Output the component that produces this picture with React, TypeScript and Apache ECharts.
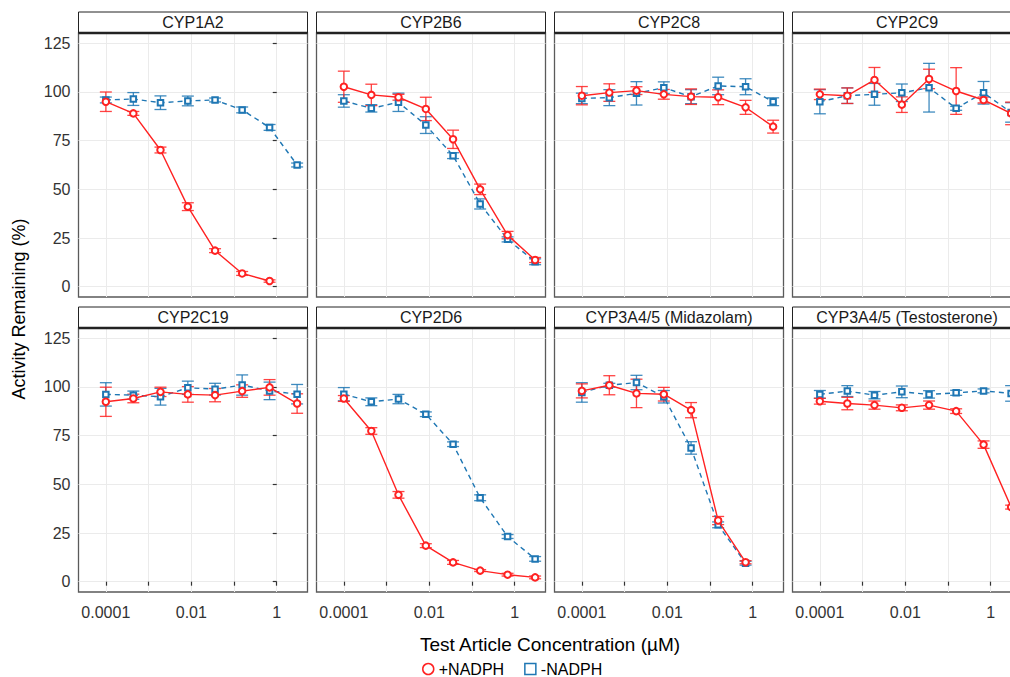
import React, { useEffect, useRef } from "react";
import * as echarts from "echarts";

const concentrations = [0.0001, 0.00044, 0.0019, 0.0083, 0.036, 0.155, 0.68, 3.0];
const panels = [
  "CYP1A2",
  "CYP2B6",
  "CYP2C8",
  "CYP2C9",
  "CYP2C19",
  "CYP2D6",
  "CYP3A4/5 (Midazolam)",
  "CYP3A4/5 (Testosterone)",
];

const plusMean: (number | null)[][] = [
  [95.0, 89.0, 70.2, 41.1, 18.5, 6.8, 2.9, null],
  [102.7, 98.5, 97.3, 91.3, 75.7, 50.0, 26.5, 13.7],
  [98.1, 99.7, 100.7, 98.8, 97.6, 97.3, 92.1, 82.2],
  [98.8, 98.1, 106.2, 93.5, 106.7, 100.5, 95.9, 89.0],
  [92.4, 94.1, 97.5, 96.2, 95.8, 97.9, 99.8, 91.5],
  [94.1, 77.4, 44.6, 18.5, 9.9, 5.7, 3.6, 2.2],
  [98.0, 100.9, 96.7, 96.3, 88.1, 31.4, 10.0, null],
  [92.7, 91.5, 90.7, 89.3, 90.7, 87.6, 70.4, 38.3],
];
const plusErr: (number | null)[][] = [
  [5, 1, 1.5, 2, 1, 1, 0.6, null],
  [8, 5.5, 1.5, 6, 4.7, 2.7, 1.9, 1.3],
  [4.7, 4.5, 2, 2.5, 4, 3.8, 3.6, 3.3],
  [2.7, 4, 6.4, 4, 5, 12, 1.5, 5.8],
  [7.5, 2.2, 2.4, 4, 3.4, 3.2, 4, 5],
  [1.5, 1.7, 1.7, 1, 1, 0.5, 0.7, 0.7],
  [3.6, 4.9, 7.3, 3.5, 3.9, 2.1, 0.8, null],
  [1.5, 3.2, 2.1, 1.5, 2.1, 1.2, 1.9, 1],
];
const minusMean: (number | null)[][] = [
  [95.9, 96.4, 94.5, 95.4, 95.9, 90.8, 81.8, 62.5],
  [95.4, 91.6, 94.7, 83.0, 67.3, 42.5, 24.3, 12.8],
  [96.7, 97.1, 99.3, 102.2, 97.6, 103.1, 102.7, 95.0],
  [95.0, 98.1, 98.8, 99.6, 102.2, 91.6, 99.6, 89.5],
  [96.2, 95.8, 95.0, 99.6, 98.9, 101.0, 98.0, 96.3],
  [96.3, 92.4, 93.8, 86.0, 70.6, 43.1, 23.2, 11.7],
  [97.2, 100.9, 102.3, 95.0, 68.7, 29.2, 9.5, null],
  [96.2, 97.9, 95.8, 97.5, 96.2, 97.0, 98.0, 96.7],
];
const minusErr: (number | null)[][] = [
  [1.5, 3.3, 3.5, 2.5, 1, 1.5, 1.5, 1],
  [3.2, 1.9, 4.7, 4.3, 1.5, 2.6, 1.3, 1.5],
  [2.7, 4.1, 6, 3, 3.6, 4.5, 4.1, 2],
  [6.2, 4, 5.6, 4.5, 12.5, 1, 5.8, 5],
  [6, 2.1, 4.3, 3.4, 3, 5.2, 4.5, 5],
  [3.4, 2, 2.4, 1.2, 1.2, 1.5, 1, 1.2],
  [5, 1, 3.7, 3.2, 3.2, 1.5, 1, null],
  [2, 2.8, 1.9, 3, 1.9, 1.3, 1, 4],
];

const xTickValues = [0.0001, 0.001, 0.01, 0.1, 1];
const xLabelValues = [0.0001, 0.01, 1];
const xLabelTexts = ["0.0001", "0.01", "1"];
const yTickValues = [0, 25, 50, 75, 100, 125];

const RED = "#FF2222";
const BLUE = "#1F77B4";
const FONT = "'Liberation Sans', Arial, sans-serif";

const GRID_LEFT = 78.5;
const GRID_STEP_X = 238;
const GRID_W = 229;
const GRID_TOP = 33;
const GRID_STEP_Y = 295;
const GRID_H = 264;
const STRIP_H = 21;

function buildOption() {
  const grids: any[] = [];
  const xAxes: any[] = [];
  const yAxes: any[] = [];
  const series: any[] = [];
  const graphics: any[] = [];

  panels.forEach((name, i) => {
    const col = i % 4;
    const row = Math.floor(i / 4);
    const left = GRID_LEFT + GRID_STEP_X * col;
    const top = GRID_TOP + GRID_STEP_Y * row;
    grids.push({
      left,
      top,
      width: GRID_W,
      height: GRID_H,
      show: true,
      backgroundColor: "#fff",
      borderColor: "#5a5a5a",
      borderWidth: 1.3,
      containLabel: false,
    });
    const bottom = row === 1;
    const leftCol = col === 0;
    xAxes.push({
      gridIndex: i,
      type: "value",
      min: -4.64,
      max: 0.72,
      axisLine: { show: false },
      axisTick: {
        show: bottom,
        customValues: xTickValues.map((v) => Math.log10(v)),
        length: 4,
        lineStyle: { color: "#333", width: 1.2 },
      },
      axisLabel: {
        show: bottom,
        customValues: xLabelValues.map((v) => Math.log10(v)),
        formatter: (v: number) => {
          const k = xLabelValues.findIndex((t) => Math.abs(Math.log10(t) - v) < 1e-6);
          return k >= 0 ? xLabelTexts[k] : "";
        },
        fontSize: 16,
        color: "#333",
        fontFamily: FONT,
        margin: 12,
      },
      splitLine: { show: true, lineStyle: { color: "#EBEBEB", width: 1 } },
    });
    yAxes.push({
      gridIndex: i,
      type: "value",
      min: -5.3,
      max: 130.3,
      axisLine: { show: false },
      axisTick: {
        show: leftCol,
        customValues: yTickValues,
        length: 4,
        lineStyle: { color: "#333", width: 1.2 },
      },
      axisLabel: {
        show: leftCol,
        customValues: yTickValues,
        fontSize: 16,
        color: "#333",
        fontFamily: FONT,
        margin: 8,
      },
      splitLine: { show: true, lineStyle: { color: "#EBEBEB", width: 1 } },
    });

    const mk = (means: (number | null)[], errs: (number | null)[]) => {
      const pts: number[][] = [];
      const bars: number[][] = [];
      means.forEach((m, k) => {
        if (m === null) return;
        const x = Math.log10(concentrations[k]);
        pts.push([x, m]);
        const e = errs[k] ?? 0;
        bars.push([x, m - e, m + e]);
      });
      return { pts, bars };
    };
    const plus = mk(plusMean[i], plusErr[i]);
    const minus = mk(minusMean[i], minusErr[i]);

    const errSeries = (data: number[][], color: string, seriesName: string, z: number) => ({
      type: "custom",
      name: seriesName,
      xAxisIndex: i,
      yAxisIndex: i,
      z,
      silent: true,
      data,
      encode: { x: 0, y: [1, 2] },
      renderItem: (_p: any, api: any) => {
        const x = api.value(0);
        const lo = api.value(1);
        const hi = api.value(2);
        const a = api.coord([x, hi]);
        const b = api.coord([x, lo]);
        const w = 6;
        const st = { stroke: color, lineWidth: 1.3, opacity: 0.85 };
        return {
          type: "group",
          children: [
            { type: "line", shape: { x1: a[0], y1: a[1], x2: b[0], y2: b[1] }, style: st },
            { type: "line", shape: { x1: a[0] - w, y1: a[1], x2: a[0] + w, y2: a[1] }, style: st },
            { type: "line", shape: { x1: b[0] - w, y1: b[1], x2: b[0] + w, y2: b[1] }, style: st },
          ],
        };
      },
    });

    series.push(errSeries(minus.bars, BLUE, "-NADPH", 2));
    series.push(errSeries(plus.bars, RED, "+NADPH", 3));
    series.push({
      type: "line",
      name: "-NADPH",
      xAxisIndex: i,
      yAxisIndex: i,
      z: 4,
      data: minus.pts,
      symbol: "emptyRect",
      symbolSize: 5.5,
      itemStyle: { color: BLUE, borderColor: BLUE, borderWidth: 1.2 },
      lineStyle: { color: BLUE, width: 1.4, type: [5, 4] },
    });
    series.push({
      type: "line",
      name: "+NADPH",
      xAxisIndex: i,
      yAxisIndex: i,
      z: 5,
      data: plus.pts,
      symbol: "emptyCircle",
      symbolSize: 6.5,
      itemStyle: { color: RED, borderColor: RED, borderWidth: 1.2 },
      lineStyle: { color: RED, width: 1.4 },
    });

    graphics.push({
      type: "rect",
      shape: { x: left, y: top - STRIP_H, width: GRID_W, height: STRIP_H },
      style: { fill: "#fff", stroke: "#222", lineWidth: 1 },
      z: 10,
    });
    graphics.push({
      type: "line",
      shape: { x1: left, y1: top, x2: left + GRID_W, y2: top },
      style: { stroke: "#222", lineWidth: 2.5 },
      z: 11,
    });
    graphics.push({
      type: "text",
      x: left + GRID_W / 2,
      y: top - STRIP_H / 2,
      style: {
        text: name,
        fontSize: 16,
        fontFamily: FONT,
        fill: "#1a1a1a",
        align: "center",
        verticalAlign: "middle",
      },
      z: 12,
    });
  });

  graphics.push({
    type: "text",
    x: 550,
    y: 644,
    style: {
      text: "Test Article Concentration (µM)",
      fontSize: 19,
      fontFamily: FONT,
      fill: "#000",
      align: "center",
      verticalAlign: "middle",
    },
  });
  graphics.push({
    type: "text",
    x: 19,
    y: 309,
    rotation: Math.PI / 2,
    style: {
      text: "Activity Remaining (%)",
      fontSize: 18,
      fontFamily: FONT,
      fill: "#000",
      align: "center",
      verticalAlign: "middle",
    },
  });

  return {
    animation: false,
    backgroundColor: "#fff",
    textStyle: { fontFamily: FONT },
    grid: grids,
    xAxis: xAxes,
    yAxis: yAxes,
    series,
    graphic: { elements: graphics },
    legend: {
      left: 422,
      top: 661,
      padding: 0,
      itemGap: 20,
      itemWidth: 11,
      itemHeight: 11,
      textStyle: { fontSize: 16, color: "#000", fontFamily: FONT },
      selectedMode: false,
      data: [
        {
          name: "+NADPH",
          icon: "circle",
          itemStyle: { color: "#fff", borderColor: RED, borderWidth: 1.5 },
        },
        {
          name: "-NADPH",
          icon: "rect",
          itemStyle: { color: "#fff", borderColor: BLUE, borderWidth: 1.5 },
        },
      ],
    },
  };
}

export default function App() {
  const ref = useRef<HTMLDivElement>(null);
  useEffect(() => {
    if (!ref.current) return;
    const chart = echarts.init(ref.current, undefined, { renderer: "svg" });
    chart.setOption(buildOption() as any);
    return () => chart.dispose();
  }, []);
  return (
    <div
      style={{
        position: "fixed",
        left: 0,
        top: 0,
        width: 1010,
        height: 677,
        overflow: "hidden",
        background: "#fff",
      }}
    >
      <div ref={ref} style={{ width: 1060, height: 677 }} />
    </div>
  );
}
